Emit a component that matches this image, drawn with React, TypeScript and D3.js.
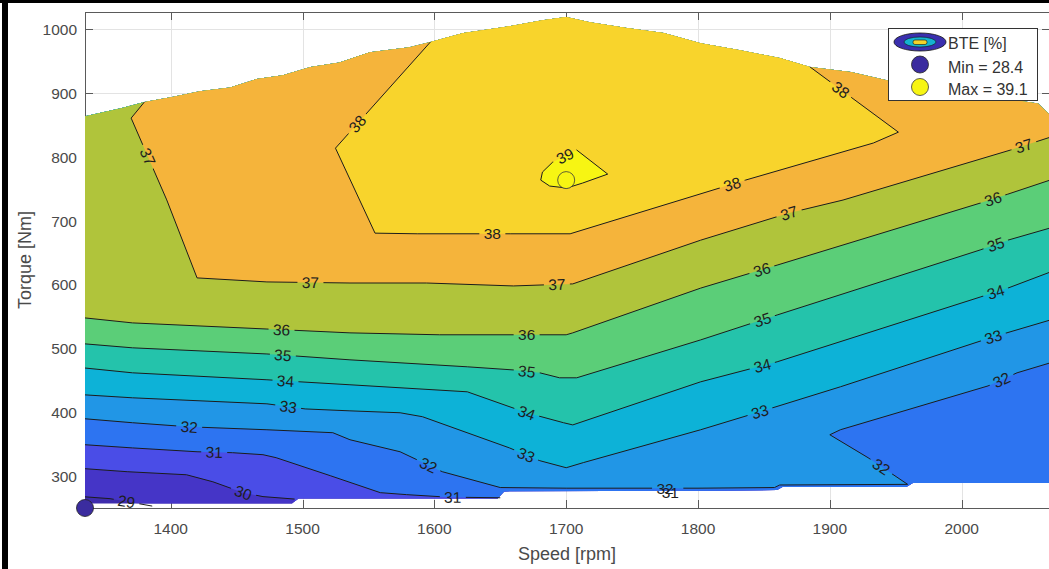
import React from 'react';
import * as d3 from 'd3';

type Pt = [number, number];

const WIDTH = 1049;
const HEIGHT = 569;

// ---------- data ----------
const speedTicks = [1400, 1500, 1600, 1700, 1800, 1900, 2000];
const torqueTicks = [300, 400, 500, 600, 700, 800, 900, 1000];
const speedExtent: Pt = [1335, 2067];
const torqueExtent: Pt = [251, 1027];

// max-torque curve (upper edge of the measured map)
const topBoundary: Pt[] = [
  [1335, 864], [1346, 869], [1363, 877], [1380, 886], [1401, 894], [1422, 903],
  [1445, 909], [1465, 922], [1485, 928], [1506, 941], [1528, 948], [1551, 964],
  [1581, 972], [1597, 980], [1622, 994], [1652, 1003], [1682, 1014], [1700, 1019],
  [1718, 1011], [1746, 1002], [1774, 994], [1802, 978], [1832, 967], [1862, 955],
  [1885, 941], [1916, 933], [1944, 920], [2000, 901], [2058, 884], [2067, 866],
];
// lower edge of the measured map
const bottomBoundary: Pt[] = [
  [1335, 258], [1492, 258], [1497, 266], [1648, 266], [1653, 277], [1808, 278],
  [1860, 279], [1864, 284], [1958, 284], [1963, 290], [2067, 290],
];

const contourLevels = [29, 30, 31, 32, 33, 34, 35, 36, 37, 38, 39];
const bandColors = [
  '#3E2CAC', '#4535C7', '#4A4DE7', '#2D74F1', '#2196E6', '#0DB2D7',
  '#24C3AB', '#5BCE78', '#B0C43B', '#F5B43B', '#F8D42C', '#F7F513',
];

const line29: Pt[] = [[1335, 268.5], [1354, 265.6], [1367, 261], [1386, 254]];
const line30: Pt[] = [[1335, 312.5], [1367, 307.8], [1412, 303], [1432, 292], [1455, 275], [1470, 268.8], [1494, 265]];
const line31: Pt[] = [[1335, 350], [1371, 345], [1420, 339], [1447, 337.5], [1470, 334.4], [1480, 329.7], [1521, 301.6], [1559, 275], [1579, 271.9], [1610, 268], [1650, 267]];
const line32: Pt[] = [[1335, 390.6], [1371, 384.4], [1414, 378], [1473, 373.4], [1523, 368.8], [1536, 357.8], [1574, 339], [1606, 307.8], [1650, 283], [1700, 282], [1800, 282], [1858, 283], [1862, 287], [1959, 288], [1929, 329.7], [1900, 365.6], [1908, 373.4], [2020, 442], [2042, 462.5], [2067, 478]];
const line33: Pt[] = [[1335, 428], [1371, 423.4], [1473, 414], [1502, 406], [1536, 403], [1574, 400], [1591, 393.8], [1657, 345], [1680, 325], [1700, 314], [1713, 322], [1802, 373.4], [1847, 401.6], [1908, 440.6], [2024, 518.8], [2067, 545]];
const line34: Pt[] = [[1335, 470], [1371, 462.5], [1473, 451.6], [1498, 448.4], [1536, 443.8], [1625, 432.8], [1670, 400], [1698, 384.4], [1705, 381], [1802, 448.4], [1860, 479.7], [2014, 581], [2035, 595], [2067, 620]];
const line35: Pt[] = [[1335, 507.8], [1371, 501.6], [1473, 492], [1536, 482.8], [1625, 471.9], [1660, 467], [1680, 462.5], [1695, 454.7], [1708, 454.7], [1802, 514], [1860, 553], [2014, 654.7], [2035, 670], [2067, 689]];
const line36: Pt[] = [[1335, 548.4], [1371, 540.6], [1473, 531], [1536, 525], [1604, 522], [1700, 522], [1705, 525], [1802, 595], [1860, 631], [2014, 728], [2035, 742], [2067, 764]];
const line37: Pt[] = [[1380, 886], [1370, 861], [1397, 733], [1420, 611], [1473, 604.7], [1536, 603], [1594, 603], [1660, 598.4], [1705, 601.6], [1802, 670], [1869, 712.5], [1910, 732.8], [2037, 811], [2067, 831]];
const line38: Pt[] = [[1597, 980], [1525, 814], [1555, 681], [1587, 680], [1658, 680], [1703, 680], [1836, 764], [1933, 822], [1952, 839], [1885, 941]];
const line39: Pt[] = [[1708, 811], [1731.5, 773.4], [1712.5, 759.4], [1700.4, 751.6], [1687.5, 754.7], [1680.7, 764], [1682, 776.6], [1689.8, 792.2]];

type Kind = 'leftRight' | 'leftBottom' | 'topRight' | 'topTop' | 'loop';
const contourLines: { level: number; kind: Kind; points: Pt[] }[] = [
  { level: 29, kind: 'leftBottom', points: line29 },
  { level: 30, kind: 'leftBottom', points: line30 },
  { level: 31, kind: 'leftBottom', points: line31 },
  { level: 32, kind: 'leftRight', points: line32 },
  { level: 33, kind: 'leftRight', points: line33 },
  { level: 34, kind: 'leftRight', points: line34 },
  { level: 35, kind: 'leftRight', points: line35 },
  { level: 36, kind: 'leftRight', points: line36 },
  { level: 37, kind: 'topRight', points: line37 },
  { level: 38, kind: 'topTop', points: line38 },
  { level: 39, kind: 'loop', points: line39 },
];

// contour label anchors: [level, speed, torque]
const labelAnchors: [number, number, number][] = [
  [29, 1367, 267],
  [30, 1455, 275],
  [31, 1433, 337.5], [31, 1614, 267], [31, 1779, 276],
  [32, 1414, 378], [32, 1595, 315.6], [32, 1775, 282], [32, 1938, 312.5], [32, 2031, 448],
  [33, 1489, 407.8], [33, 1669, 331], [33, 1847, 401.6], [33, 2024, 518.8],
  [34, 1487, 446.9], [34, 1670, 400], [34, 1849, 471.9], [34, 2026, 587.5],
  [35, 1485, 487.5], [35, 1670, 462.5], [35, 1849, 545], [35, 2026, 662.5],
  [36, 1484, 526.6], [36, 1670, 522], [36, 1849, 620], [36, 2024, 732.8],
  [37, 1382, 800], [37, 1506, 603], [37, 1693, 599], [37, 1869, 712.5], [37, 2047, 818.8],
  [38, 1541, 853], [38, 1644, 680], [38, 1826, 757], [38, 1908, 904.7],
  [39, 1698, 806],
];

const minPoint = { speed: 1335, torque: 251, value: 28.4 };
const maxPoint = { speed: 1700, torque: 764, value: 39.1 };
const legendTitle = 'BTE [%]';
const xTitle = 'Speed [rpm]';
const yTitle = 'Torque [Nm]';

// ---------- layout ----------
const PLOT = { left: 85, right: 1050, top: 12, bottom: 508 };
const FONT = '"Liberation Sans", Arial, Helvetica, sans-serif';

export default function App() {
  const x = d3.scaleLinear().domain(speedExtent).range([PLOT.left, PLOT.right]);
  const y = d3.scaleLinear().domain(torqueExtent).range([PLOT.bottom, PLOT.top]);
  const line = d3.line<Pt>().x((d) => x(d[0])).y((d) => y(d[1]));

  const domainPoly: Pt[] = [...topBoundary, ...bottomBoundary.slice().reverse()];

  const L = speedExtent[0] - 40;
  const R = speedExtent[1] + 40;
  const T = torqueExtent[1] + 100;
  const B = torqueExtent[0] - 100;

  const regionPoints = (c: { kind: Kind; points: Pt[] }): Pt[] => {
    const p = c.points;
    const f = p[0];
    const l = p[p.length - 1];
    switch (c.kind) {
      case 'leftRight':
        return [...p, [R, l[1]], [R, T], [L, T], [L, f[1]]];
      case 'leftBottom':
        return [...p, [l[0], B], [R, B], [R, T], [L, T], [L, f[1]]];
      case 'topRight':
        return [...p, [R, l[1]], [R, T], [f[0], T]];
      case 'topTop':
        return [...p, [l[0], T], [f[0], T]];
      default:
        return p;
    }
  };

  const labels = labelAnchors.map(([level, s, t], i) => {
    const c = contourLines.find((cl) => cl.level === level)!;
    const pts = c.points.map((d) => [x(d[0]), y(d[1])] as Pt);
    if (c.kind === 'loop') pts.push(pts[0]);
    const px = x(s);
    const py = y(t);
    let best = { d: Infinity, ang: 0, qx: px, qy: py };
    for (let k = 0; k < pts.length - 1; k++) {
      const [ax, ay] = pts[k];
      const [bx, by] = pts[k + 1];
      const dx = bx - ax;
      const dy = by - ay;
      const len2 = dx * dx + dy * dy || 1;
      let u = ((px - ax) * dx + (py - ay) * dy) / len2;
      u = Math.max(0, Math.min(1, u));
      const qx = ax + u * dx;
      const qy = ay + u * dy;
      const dist = Math.hypot(px - qx, py - qy);
      if (dist < best.d) {
        let ang = (Math.atan2(dy, dx) * 180) / Math.PI;
        if (ang > 90) ang -= 180;
        if (ang < -90) ang += 180;
        best = { d: dist, ang, qx, qy };
      }
    }
    const snap = best.d < 6;
    return {
      key: i,
      text: String(level),
      cx: snap ? best.qx : px,
      cy: snap ? best.qy : py,
      ang: best.d < 30 ? best.ang : 0,
    };
  });

  return (
    <svg
      width={WIDTH}
      height={HEIGHT}
      style={{ position: 'absolute', left: 0, top: 0, background: '#fff' }}
      fontFamily={FONT}
    >
      <defs>
        <clipPath id="mapDomain">
          <path d={line(domainPoly) + 'Z'} />
        </clipPath>
        <clipPath id="plotArea">
          <rect x={PLOT.left} y={PLOT.top} width={PLOT.right - PLOT.left} height={PLOT.bottom - PLOT.top} />
        </clipPath>
        <mask id="labelGaps" maskUnits="userSpaceOnUse" x={0} y={0} width={WIDTH} height={HEIGHT}>
          <rect x={0} y={0} width={WIDTH} height={HEIGHT} fill="white" />
          {labels.map((lb) => (
            <rect
              key={lb.key}
              x={-13}
              y={-7}
              width={26}
              height={14}
              fill="black"
              transform={`translate(${lb.cx},${lb.cy}) rotate(${lb.ang})`}
            />
          ))}
        </mask>
      </defs>

      <rect x={0} y={0} width={WIDTH} height={HEIGHT} fill="#fff" />

      {/* grid (drawn below data) */}
      <g stroke="#e3e3e3" strokeWidth={1}>
        {speedTicks.map((v) => (
          <line key={'gx' + v} x1={Math.round(x(v)) + 0.5} x2={Math.round(x(v)) + 0.5} y1={PLOT.top} y2={PLOT.bottom} />
        ))}
        {torqueTicks.map((v) => (
          <line key={'gy' + v} x1={PLOT.left} x2={PLOT.right} y1={Math.round(y(v)) + 0.5} y2={Math.round(y(v)) + 0.5} />
        ))}
      </g>

      {/* axes box and ticks */}
      <g stroke="#5a5a5a" strokeWidth={1} fill="none">
        <line x1={PLOT.left + 0.5} x2={PLOT.left + 0.5} y1={PLOT.top} y2={PLOT.bottom + 0.5} />
        <line x1={PLOT.left} x2={PLOT.right} y1={PLOT.top + 0.5} y2={PLOT.top + 0.5} />
        <line x1={PLOT.left} x2={PLOT.right} y1={PLOT.bottom + 0.5} y2={PLOT.bottom + 0.5} />
        <line x1={PLOT.right - 0.5} x2={PLOT.right - 0.5} y1={PLOT.top} y2={PLOT.bottom} />
        {speedTicks.map((v) => (
          <g key={'tx' + v}>
            <line x1={Math.round(x(v)) + 0.5} x2={Math.round(x(v)) + 0.5} y1={PLOT.bottom} y2={PLOT.bottom - 8} />
            <line x1={Math.round(x(v)) + 0.5} x2={Math.round(x(v)) + 0.5} y1={PLOT.top} y2={PLOT.top + 8} />
          </g>
        ))}
        {torqueTicks.map((v) => (
          <g key={'ty' + v}>
            <line x1={PLOT.left} x2={PLOT.left + 8} y1={Math.round(y(v)) + 0.5} y2={Math.round(y(v)) + 0.5} />
            <line x1={PLOT.right - 8} x2={PLOT.right} y1={Math.round(y(v)) + 0.5} y2={Math.round(y(v)) + 0.5} />
          </g>
        ))}
      </g>

      {/* filled contour bands */}
      <g clipPath="url(#plotArea)">
        <g clipPath="url(#mapDomain)">
          <rect x={PLOT.left} y={PLOT.top} width={PLOT.right - PLOT.left} height={PLOT.bottom - PLOT.top} fill={bandColors[0]} />
          {contourLines.map((c) => (
            <path
              key={'band' + c.level}
              d={line(regionPoints(c)) + 'Z'}
              fill={bandColors[contourLevels.indexOf(c.level) + 1]}
              stroke="none"
            />
          ))}
        </g>

        {/* contour lines with gaps for labels */}
        <g mask="url(#labelGaps)" fill="none" stroke="#1c1c1c" strokeWidth={1} strokeLinejoin="round">
          {contourLines.map((c) => (
            <path key={'line' + c.level} d={line(c.points) + (c.kind === 'loop' ? 'Z' : '')} />
          ))}
        </g>

        {/* contour labels */}
        <g fontSize={15.5} fill="#1e1e1e" textAnchor="middle">
          {labels.map((lb) => (
            <text
              key={lb.key}
              transform={`translate(${lb.cx},${lb.cy}) rotate(${lb.ang})`}
              dy="0.36em"
            >
              {lb.text}
            </text>
          ))}
        </g>
      </g>

      {/* min / max markers */}
      <circle cx={x(maxPoint.speed)} cy={y(maxPoint.torque)} r={8.5} fill="#F7F513" stroke="#3a3a3a" strokeWidth={0.8} />
      <circle cx={x(minPoint.speed)} cy={y(minPoint.torque)} r={8.5} fill="#3B2C9F" stroke="#222" strokeWidth={0.8} />

      {/* tick labels */}
      <g fontSize={15.5} fill="#4a4a4a">
        {speedTicks.map((v) => (
          <text key={'lx' + v} x={x(v)} y={534} textAnchor="middle">
            {v}
          </text>
        ))}
        {torqueTicks.map((v) => (
          <text key={'ly' + v} x={77} y={y(v) + 5.5} textAnchor="end">
            {v}
          </text>
        ))}
      </g>

      {/* axis titles */}
      <text x={567} y={560} fontSize={18} fill="#4a4a4a" textAnchor="middle">
        {xTitle}
      </text>
      <text transform="translate(31,260) rotate(-90)" fontSize={18} fill="#4a4a4a" textAnchor="middle">
        {yTitle}
      </text>

      {/* legend */}
      <g>
        <rect x={888.5} y={28.5} width={149} height={72} fill="#fff" stroke="#333" strokeWidth={1} />
        <ellipse cx={920} cy={42} rx={26} ry={9} fill="#3A2FAE" stroke="#111" strokeWidth={0.8} />
        <ellipse cx={920} cy={42} rx={16} ry={5} fill="#15B3CF" stroke="#111" strokeWidth={0.6} />
        <rect x={913} y={40} width={14} height={4.5} rx={2} fill="#F4D22A" stroke="#111" strokeWidth={0.6} />
        <circle cx={920} cy={64.5} r={8.5} fill="#3B2C9F" stroke="#222" strokeWidth={0.8} />
        <circle cx={920} cy={87} r={8.5} fill="#F7F513" stroke="#3a3a3a" strokeWidth={0.8} />
        <g fontSize={16} fill="#333">
          <text x={948} y={49}>{legendTitle}</text>
          <text x={948} y={72.5}>{`Min = ${minPoint.value}`}</text>
          <text x={948} y={94.5}>{`Max = ${maxPoint.value}`}</text>
        </g>
      </g>

      {/* screenshot frame */}
      <rect x={0} y={0} width={WIDTH} height={3} fill="#000" />
      <rect x={2} y={0} width={6} height={HEIGHT} fill="#000" />
    </svg>
  );
}
